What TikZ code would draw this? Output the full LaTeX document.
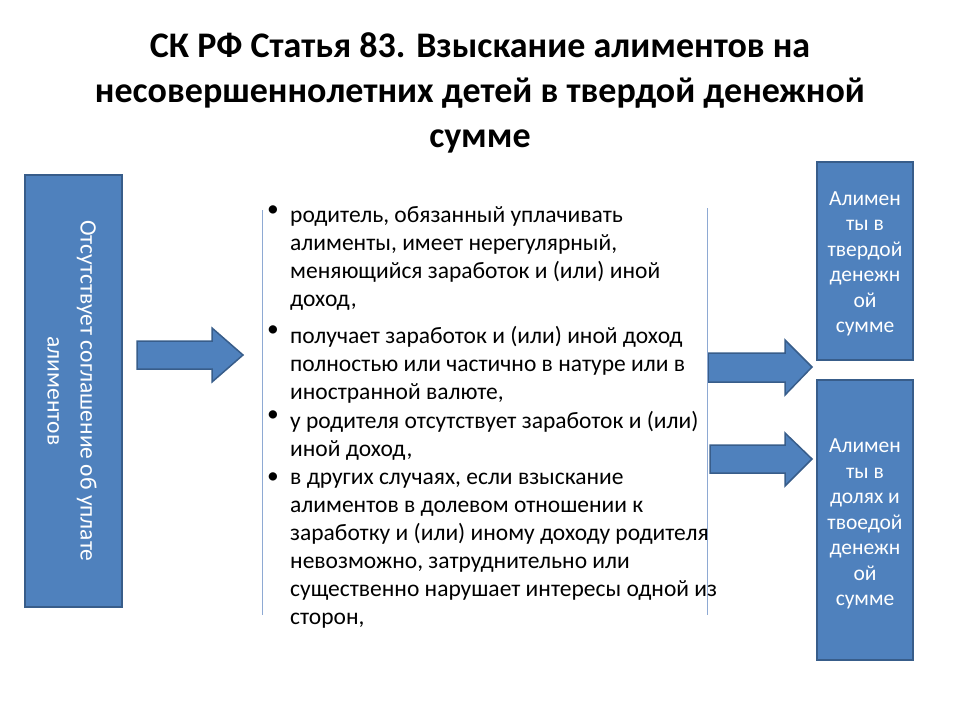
\documentclass[tikz,border=0pt]{standalone}
\usepackage{fontspec}
\setmainfont{Carlito}
\definecolor{boxblue}{HTML}{4F81BD}
\definecolor{boxedge}{HTML}{385D8A}
\definecolor{rule}{HTML}{8EA9D3}
\tikzset{
  bluebox/.style={draw=boxedge, line width=1.5pt, fill=boxblue, text=white},
  bigarrow/.style={draw=boxedge, line width=1.5pt, fill=boxblue, line join=miter},
  bullettext/.style={anchor=north west, align=left, inner sep=0pt,
    font=\fontsize{23.5}{28}\selectfont}
}
\begin{document}
\begin{tikzpicture}[x=1pt,y=-1pt]
    \useasboundingbox (0,0) rectangle (960,720);
    \node[font=\bfseries\fontsize{36}{45}\selectfont, align=center] (title) at (480,93)
      {СК РФ Статья 83. Взыскание алиментов на\\несовершеннолетних детей в твердой денежной\\сумме};
    \node[bluebox, minimum width=97pt, minimum height=432pt] (left) at (73.5,391) {};
    \node[rotate=-90, text=white, align=center, font=\fontsize{23.5}{33}\selectfont] (lefttext) at (72,391)
      {Отсутствует соглашение об уплате\\алиментов};
    \node[bluebox, minimum width=96pt, minimum height=198pt] (top) at (865,261) {};
    \node[text=white, align=center, font=\fontsize{21.5}{25.5}\selectfont] (toptext) at (865,264)
      {Алимен\\ты в\\твердой\\денежн\\ой\\сумме};
    \node[bluebox, minimum width=96pt, minimum height=280pt] (bottom) at (865,520) {};
    \node[text=white, align=center, font=\fontsize{21.5}{25.5}\selectfont] (bottomtext) at (865,524)
      {Алимен\\ты в\\долях и\\твоедой\\денежн\\ой\\сумме};
    % arrows
    \draw[bigarrow] (137,341) -- (212,341) -- (212,328) -- (243,355) -- (212,382) -- (212,369) -- (137,369) -- cycle;
    \draw[bigarrow] (708,353) -- (785,353) -- (785,340) -- (812,367) -- (785,395) -- (785,382) -- (708,382) -- cycle;
    \draw[bigarrow] (710,445) -- (785,445) -- (785,433) -- (812,459) -- (785,486) -- (785,473) -- (710,473) -- cycle;
    % rules
    \draw[rule, line width=1pt] (262,210) -- (262,615);
    \draw[rule, line width=1pt] (707,208) -- (707,615);
    % bullets
    \node[bullettext] (b1) at (290,206) {родитель, обязанный уплачивать\\алименты, имеет нерегулярный,\\меняющийся заработок и (или) иной\\доход,};
    \node[bullettext] (b2) at (290,326) {получает заработок и (или) иной доход\\полностью или частично в натуре или в\\иностранной валюте,};
    \node[bullettext] (b3) at (290,411) {у родителя отсутствует заработок и (или)\\иной доход,};
    \node[bullettext] (b4) at (290,473) {в других случаях, если взыскание\\алиментов в долевом отношении к\\заработку и (или) иному доходу родителя\\невозможно, затруднительно или\\существенно нарушает интересы одной из\\сторон,};
    \foreach \n in {b1,b2,b3,b4}
      \node[anchor=north, inner sep=0pt, font=\fontsize{23.5}{28}\selectfont] (\n dot) at ([xshift=-17pt]\n.north west) {•};
\end{tikzpicture}
\end{document}
